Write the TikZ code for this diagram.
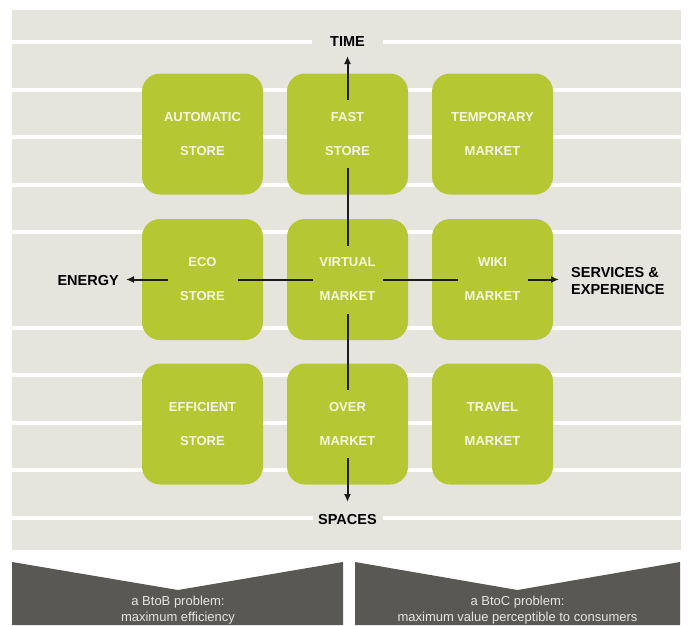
\documentclass[tikz,border=0pt]{standalone}
\usepackage{fontspec}
\setmainfont{Liberation Sans}
\usetikzlibrary{arrows.meta}
\definecolor{panel}{RGB}{229,229,222}
\definecolor{leaf}{RGB}{181,200,52}
\definecolor{leaftext}{RGB}{244,247,222}
\definecolor{darkband}{RGB}{90,88,84}
\definecolor{inkline}{RGB}{28,28,28}
\tikzset{
  cell/.style={fill=leaf,rounded corners=18pt,minimum width=121pt,minimum height=121pt,inner sep=0pt},
  celltext/.style={fill=leaf,minimum width=70pt,minimum height=68pt,inner sep=0pt,align=center,
    text=leaftext,font=\fontsize{13}{34}\selectfont\bfseries},
  stripe/.style={white,line width=4pt},
  conn/.style={draw=inkline,line width=2pt,-{Latex[length=8pt,width=7pt]}},
  axis/.style={font=\fontsize{14.5}{17.5}\selectfont\bfseries,text=black},
  bandtext/.style={font=\fontsize{13}{16}\selectfont,text=white!90!black,align=center}
}
\begin{document}
\begin{tikzpicture}[x=1pt,y=-1pt]
\useasboundingbox (0,0) rectangle (689,625);
\fill[white] (0,0) rectangle (689,625);
% panel
\fill[panel] (12,10) rectangle (681,550);
% stripes
\foreach \yy in {42,89.6,137.2,184.8,232.4,327.6,375.2,422.8,470.4,518}
  \draw[stripe] (12,\yy) -- (681,\yy);
% boxes
\node[cell] (b11) at (202.5,134) {};
\node[cell] (b12) at (347.5,134) {};
\node[cell] (b13) at (492.5,134) {};
\node[cell] (b21) at (202.5,279.5) {};
\node[cell] (b22) at (347.5,279.5) {};
\node[cell] (b23) at (492.5,279.5) {};
\node[cell] (b31) at (202.5,424) {};
\node[cell] (b32) at (347.5,424) {};
\node[cell] (b33) at (492.5,424) {};
% axis labels
\node[axis,fill=panel,minimum width=71pt,inner ysep=2pt] (time) at (347.5,42) {TIME};
\node[axis,fill=panel,minimum width=70pt,inner ysep=2pt] (spaces) at (347.5,519) {SPACES};
\node[axis,anchor=east,inner sep=0pt] (energy) at (119,281) {ENERGY};
\node[axis,anchor=west,align=left,inner sep=0pt] (serv) at (571,281) {SERVICES \&\\EXPERIENCE};
% tips
\coordinate (tipT) at (347.5,56);
\coordinate (tipS) at (347.5,502);
\coordinate (tipL) at (126,279.5);
\coordinate (tipR) at (559,279.5);
% connectors
\draw[conn] (b22.center) -- (tipT);
\draw[conn] (b22.center) -- (tipS);
\draw[conn] (b22.center) -- (tipL);
\draw[conn] (b22.center) -- (tipR);
% box texts
\node[celltext] (t11) at (b11.center) {AUTOMATIC\\STORE};
\node[celltext] (t12) at (b12.center) {FAST\\STORE};
\node[celltext] (t13) at (b13.center) {TEMPORARY\\MARKET};
\node[celltext] (t21) at (b21.center) {ECO\\STORE};
\node[celltext] (t22) at (b22.center) {VIRTUAL\\MARKET};
\node[celltext] (t23) at (b23.center) {WIKI\\MARKET};
\node[celltext] (t31) at (b31.center) {EFFICIENT\\STORE};
\node[celltext] (t32) at (b32.center) {OVER\\MARKET};
\node[celltext] (t33) at (b33.center) {TRAVEL\\MARKET};
% bottom bands
\fill[darkband] (12,562) -- (178,590) -- (343,562) -- (343,625) -- (12,625) -- cycle;
\fill[darkband] (355,562) -- (517.5,590) -- (680,562) -- (680,625) -- (355,625) -- cycle;
\node[bandtext] (btob) at (178,610) {a BtoB problem:\\maximum efficiency};
\node[bandtext] (btoc) at (517.5,610) {a BtoC problem:\\maximum value perceptible to consumers};
\end{tikzpicture}
\end{document}
